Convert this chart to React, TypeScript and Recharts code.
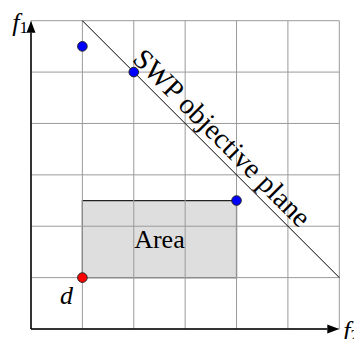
import { ComposedChart, XAxis, YAxis, Scatter, ReferenceLine, ReferenceArea, ReferenceDot } from 'recharts';

// grid / axis ticks (both axes run 0..6)
const gridTicks = [0, 1, 2, 3, 4, 5, 6];
const axisMax = 6;

// solutions on the front (blue)
const frontX = [1, 2, 4];
const frontY = [5.5, 5, 2.5];

// reference point d (red)
const refX = [1];
const refY = [1];

// SWP objective plane: x + y = 7
const planeX = [1, 6];
const planeY = [6, 1];

// dominated area rectangle
const areaX = [1, 4];
const areaY = [1, 2.5];

// text annotations
const planeLabel = 'SWP objective plane';
const planeLabelPos = [3.72, 3.72];
const areaLabel = 'Area';

const frontData = frontX.map((x, i) => ({ x, y: frontY[i] }));
const refData = refX.map((x, i) => ({ x, y: refY[i] }));

const SERIF = 'Liberation Serif, DejaVu Serif, serif';

const dot = (fill: string) => (props: any) => (
  <circle cx={props.cx} cy={props.cy} r={4.8} fill={fill} stroke="#222" strokeWidth={1} />
);

// axis line with an arrowhead at its end
const Arrow = (props: any) => {
  const { x1, y1, x2, y2 } = props;
  const ang = Math.atan2(y2 - y1, x2 - x1);
  const len = 12;
  const w = 4.5;
  const bx = x2 - len * Math.cos(ang);
  const by = y2 - len * Math.sin(ang);
  const px = -Math.sin(ang) * w;
  const py = Math.cos(ang) * w;
  return (
    <g>
      <line x1={x1} y1={y1} x2={bx} y2={by} stroke="#000" strokeWidth={1.5} />
      <polygon points={`${x2},${y2} ${bx + px},${by + py} ${bx - px},${by - py}`} fill="#000" />
    </g>
  );
};

const textAt = (content: any, dx: number, dy: number, anchor: string, rotate = 0, size = 26) => (props: any) => {
  const x = props.cx + dx;
  const y = props.cy + dy;
  return (
    <text
      x={x}
      y={y}
      textAnchor={anchor}
      dominantBaseline="central"
      style={{ fontFamily: SERIF, fontSize: size }}
      fill="#000"
      transform={rotate ? `rotate(${rotate} ${x} ${y})` : undefined}
    >
      {content}
    </text>
  );
};

export default function App() {
  return (
    <div style={{ position: 'absolute', left: 0, top: 0, background: '#fff' }}>
      <ComposedChart
        width={354}
        height={339}
        margin={{ top: 20.7, right: 14.7, bottom: 10, left: 31 }}
      >
        <XAxis
          type="number"
          dataKey="x"
          domain={[0, axisMax]}
          ticks={gridTicks}
          height={0}
          axisLine={false}
          tick={false}
          tickLine={false}
        />
        <YAxis
          type="number"
          dataKey="y"
          domain={[0, axisMax]}
          ticks={gridTicks}
          width={0}
          axisLine={false}
          tick={false}
          tickLine={false}
        />
        <ReferenceArea x1={areaX[0]} x2={areaX[1]} y1={areaY[0]} y2={areaY[1]} fill="#000" fillOpacity={0.13} stroke="none" />
        {gridTicks.map((t) => (
          <ReferenceLine key={`gx${t}`} x={t} stroke="#9a9a9a" strokeWidth={1} ifOverflow="visible" />
        ))}
        {gridTicks.map((t) => (
          <ReferenceLine key={`gy${t}`} y={t} stroke="#9a9a9a" strokeWidth={1} ifOverflow="visible" />
        ))}
        <ReferenceArea
          x1={areaX[0]}
          x2={areaX[1]}
          y1={areaY[0]}
          y2={areaY[1]}
          fill="none"
          stroke="#222"
          strokeWidth={1.2}
        />
        <ReferenceDot
          x={(areaX[0] + areaX[1]) / 2}
          y={(areaY[0] + areaY[1]) / 2}
          ifOverflow="visible"
          shape={textAt(areaLabel, 0, 0, 'middle')}
        />
        <ReferenceLine
          segment={[{ x: planeX[0], y: planeY[0] }, { x: planeX[1], y: planeY[1] }]}
          stroke="#000"
          strokeWidth={1}
          ifOverflow="visible"
        />
        <ReferenceLine segment={[{ x: 0, y: 0 }, { x: axisMax, y: 0 }]} shape={Arrow} ifOverflow="visible" />
        <ReferenceLine segment={[{ x: 0, y: 0 }, { x: 0, y: axisMax }]} shape={Arrow} ifOverflow="visible" />
        <ReferenceDot
          x={planeLabelPos[0]}
          y={planeLabelPos[1]}
          ifOverflow="visible"
          shape={textAt(planeLabel, 0, 0, 'middle', 45, 28.5)}
        />
        <ReferenceDot
          x={refX[0]}
          y={refY[0]}
          ifOverflow="visible"
          shape={textAt(<tspan fontStyle="italic">d</tspan>, -16, 17, 'middle')}
        />
        <ReferenceDot
          x={0}
          y={axisMax}
          ifOverflow="visible"
          shape={textAt(
            <>
              <tspan fontStyle="italic">f</tspan>
              <tspan fontSize={17} dy={5}>1</tspan>
            </>,
            -3,
            1,
            'end'
          )}
        />
        <ReferenceDot
          x={axisMax}
          y={0}
          ifOverflow="visible"
          shape={textAt(
            <>
              <tspan fontStyle="italic">f</tspan>
              <tspan fontSize={17} dy={5}>2</tspan>
            </>,
            4,
            1,
            'start'
          )}
        />
        <Scatter data={frontData} dataKey="y" shape={dot('#0000ff')} isAnimationActive={false} />
        <Scatter data={refData} dataKey="y" shape={dot('#ff0000')} isAnimationActive={false} />
      </ComposedChart>
    </div>
  );
}
